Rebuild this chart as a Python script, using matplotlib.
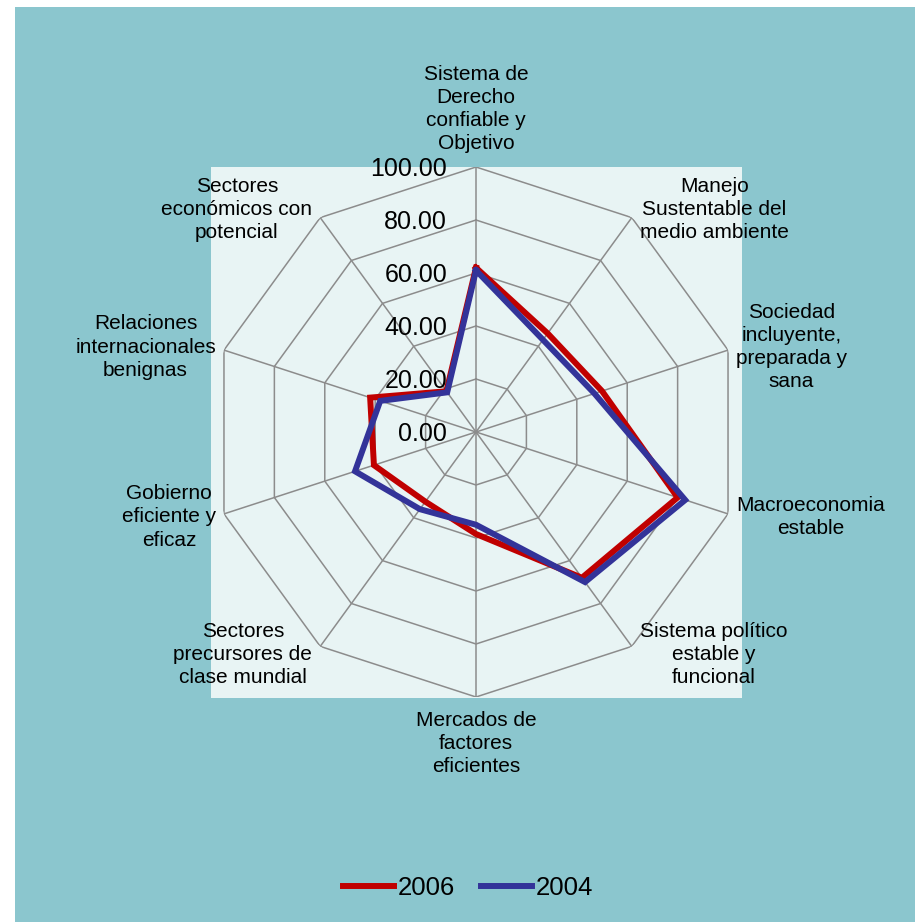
import matplotlib
matplotlib.use('Agg')
import matplotlib.pyplot as plt
import matplotlib.transforms as mtrans
from matplotlib.patches import Rectangle
import numpy as np

plt.rcParams['font.family'] = ['Liberation Sans', 'DejaVu Sans']

categories = ['Sistema de\nDerecho\nconfiable y\nObjetivo',
              'Manejo\nSustentable del\nmedio ambiente',
              'Sociedad\nincluyente,\npreparada y\nsana',
              'Macroeconomia\nestable',
              'Sistema político\nestable y\nfuncional',
              'Mercados de\nfactores\neficientes',
              'Sectores\nprecursores de\nclase mundial',
              'Gobierno\neficiente y\neficaz',
              'Relaciones\ninternacionales\nbenignas',
              'Sectores\neconómicos con\npotencial']
vals_2006 = [62, 46, 50, 80, 68, 38.5, 32.5, 40.5, 42, 19]
vals_2004 = [61, 43, 47, 83, 70, 35, 36, 48, 38, 18.5]
ticks = [0, 20, 40, 60, 80, 100]
tick_labels = ['0.00', '20.00', '40.00', '60.00', '80.00', '100.00']

BG = '#8BC6CE'
PLOT_BG = '#E8F4F4'
GRID = '#8C8C8C'
RED = '#C00000'
BLUE = '#333399'

W, H = 921, 922
fig = plt.figure(figsize=(W/100, H/100), dpi=100)
fig.patches.append(Rectangle((15/W, 0), 900/W, 915/H, transform=fig.transFigure,
                             facecolor=BG, edgecolor='none', zorder=-10))
fig.patches.append(Rectangle((211/W, 1-698/H), 531/W, 531/H, transform=fig.transFigure,
                             facecolor=PLOT_BG, edgecolor='none', zorder=-9))

ax = fig.add_axes([211/W, 1-697/H, 530/W, 530/H], projection='polar')
ax.set_facecolor('none')
ax.set_theta_zero_location('N')
ax.set_theta_direction(-1)
ax.set_ylim(0, 100)
ax.grid(False)
ax.spines['polar'].set_visible(False)
ax.set_xticks([])
ax.set_yticks([])

n = len(categories)
theta = np.arange(n) * 2*np.pi/n
closed = np.append(theta, theta[0])

# decagon grid + spokes
for t in ticks[1:]:
    ax.plot(closed, [t]*(n+1), color=GRID, lw=1.1, zorder=1)
for th in theta:
    ax.plot([th, th], [0, 100], color=GRID, lw=1.1, zorder=1)

l6, = ax.plot(closed, np.append(vals_2006, vals_2006[0]), color=RED, lw=4.3,
              solid_joinstyle='miter', zorder=3, clip_on=False)
l4, = ax.plot(closed, np.append(vals_2004, vals_2004[0]), color=BLUE, lw=4.3,
              solid_joinstyle='miter', zorder=4, clip_on=False)

# radial value labels
for t, lab in zip(ticks, tick_labels):
    tr = mtrans.offset_copy(ax.transData, fig=fig, x=-29, y=-2, units='dots')
    ax.text(0, t, lab, transform=tr, ha='right', va='center', fontsize=18, zorder=5)

# category labels
for th, lab in zip(theta, categories):
    s, c = np.sin(th), np.cos(th)
    if abs(s) < 0.01:
        ha = 'center'
        va = 'bottom' if c > 0 else 'top'
        dx, dy = 0, 14*np.sign(c)
    else:
        ha = 'left' if s > 0 else 'right'
        va = 'center'
        dx, dy = 8*np.sign(s), 10*c
    tr = mtrans.offset_copy(ax.transData, fig=fig, x=dx, y=dy, units='dots')
    ax.text(th, 100, lab, transform=tr, ha=ha, va=va, multialignment='center',
            fontsize=15, linespacing=1.27, zorder=5)

fig.legend(handles=[l6, l4], labels=['2006', '2004'], loc='center',
           bbox_to_anchor=(468/W, 1-888/H), ncol=2, frameon=False, fontsize=18.5,
           handlelength=2.0, handletextpad=0.15, columnspacing=1.0)

fig.savefig('out.png', dpi=100, facecolor='white')
